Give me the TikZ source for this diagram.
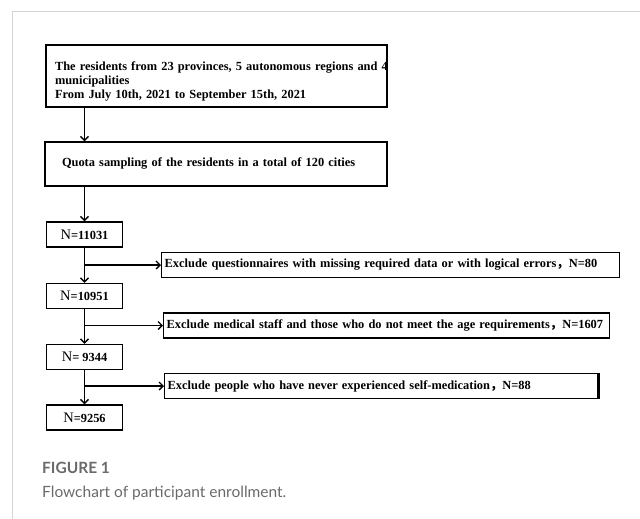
\documentclass[tikz,border=0pt]{standalone}
\usepackage{fontspec}
\setmainfont{Liberation Serif}
\newfontfamily\capfont{Lato}
\newfontfamily\cjk{Noto Sans CJK SC}
\usetikzlibrary{arrows.meta}
\definecolor{framegray}{HTML}{D4D4D4}
\definecolor{capgray}{HTML}{6A6A6A}
\newcommand{\fw}{{\cjk ，}}
\tikzset{
  box/.style={draw=black, line width=1.4pt, inner sep=0pt, font=\bfseries\fontsize{12.4}{14}\selectfont},
  nbox/.style={box, minimum width=76pt, minimum height=25pt, align=center},
  exbox/.style={box, anchor=west, inner xsep=3pt, minimum height=25pt, align=left, font=\bfseries\fontsize{12.4}{14}\selectfont},
  arr/.style={line width=1.3pt, -{Straight Barb[length=4pt,width=8pt,line width=1.3pt]}},
}
\begin{document}
\begin{tikzpicture}[x=1pt,y=-1pt]
\useasboundingbox (0,0) rectangle (640,519);
% outer frame
\draw[framegray, line width=1pt] (12,519) -- (12,12) -- (640,12);
% main boxes
\node[box, minimum width=341pt, minimum height=62pt, text width=323pt, align=left, inner xsep=9pt] (b1) at (216.5,76)
  {\rule{0pt}{20pt}\mbox{The residents from 23 provinces, 5 autonomous regions and 4}\\municipalities\\From July 10th, 2021 to September 15th, 2021};
\node[box, minimum width=342pt, minimum height=44pt, text width=308pt, align=left, inner xsep=17pt] (b2) at (216,164)
  {Quota sampling of the residents in a total of 120 cities};
% N boxes
\node[nbox] (n1) at (84.5,234.5) {{\mdseries\fontsize{14.5}{14}\selectfont N}=11031};
\node[nbox] (n2) at (84.5,296) {{\mdseries\fontsize{14.5}{14}\selectfont N}=10951};
\node[nbox] (n3) at (84.5,357) {{\mdseries\fontsize{14.5}{14}\selectfont N}= 9344};
\node[nbox] (n4) at (84.5,417.5) {{\mdseries\fontsize{14.5}{14}\selectfont N}=9256};
% exclusion boxes
\node[exbox, minimum width=458pt, text width=452pt] (e1) at (161,265)
  {\mbox{Exclude questionnaires with missing required data or with logical errors\fw N=80}};
\node[exbox, minimum width=446pt, text width=440pt] (e2) at (163,325.5)
  {\mbox{Exclude medical staff and those who do not meet the age requirements\fw N=1607}};
\node[exbox, minimum width=433pt, text width=427pt] (e3) at (164,386)
  {\mbox{Exclude people who have never experienced self-medication\fw N=88}};
\draw[line width=2.8pt] (e3.north east) -- (e3.south east);
% connectors
\coordinate (c1) at (n1.south |- e1.west);
\coordinate (c2) at (n2.south |- e2.west);
\coordinate (c3) at (n3.south |- e3.west);
\draw[arr] (b1.south -| n1.south) -- (b2.north -| n1.south);
\draw[arr] (b2.south -| n1.south) -- (n1.north);
\draw[arr] (n1.south) -- (n2.north);
\draw[arr] (n2.south) -- (n3.north);
\draw[arr] (n3.south) -- (n4.north);
\draw[arr] (c1) -- (e1.west);
\draw[arr] (c2) -- (e2.west);
\draw[arr] (c3) -- (e3.west);
% caption
\node[anchor=base west, inner sep=0pt, text=capgray, font=\capfont\bfseries\fontsize{15.5}{18}\selectfont] (cap1) at (42,473) {FIGURE 1};
\node[anchor=base west, inner sep=0pt, text=capgray, font=\capfont\fontsize{15.5}{18}\selectfont] (cap2) at (42,497) {Flowchart of participant enrollment.};
\end{tikzpicture}
\end{document}
